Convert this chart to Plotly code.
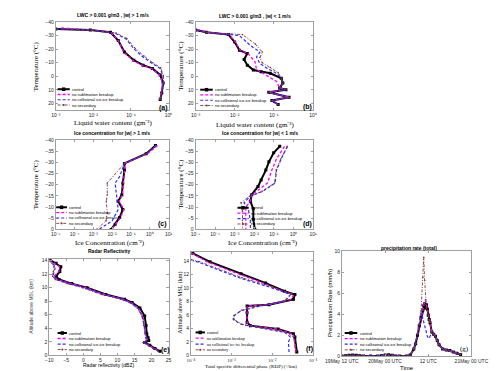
import plotly.graph_objects as go

W, H = 500, 371

SERIES = ["control", "no sublimation breakup", "no collisional ice-ice breakup", "no secondary"]
STYLE = {
    "control": dict(color="#000000", width=2.0, dash="solid", symbol="square", size=3.0),
    "no sublimation breakup": dict(color="#ff00ff", width=1.3, dash="3px,2px", symbol=None, size=0),
    "no collisional ice-ice breakup": dict(color="#2b2bff", width=1.2, dash="3px,2px", symbol=None, size=0),
    "no secondary": dict(color="#7a3a3a", width=0.9, dash="3px,1.5px,1px,1.5px", symbol="circle", size=1.6),
}

# ---------------------------------------------------------------- (a) LWC, |w| > 1
a_T = {
    "control": [-34.7, -34.0, -32.3, -26.3, -17.8, -11.8, -8.2, -5.8, -1.0, 5.0, 12.2, 17.0],
    "no sublimation breakup": [-35.5, -34.0, -32.3, -26.0, -17.5, -11.5, -8.0, -5.6, -1.0, 5.0, 12.0, 17.0],
    "no collisional ice-ice breakup": [-34.7, -34.0, -31.6, -27.5, -20.3, -14.2, -9.4, -5.8, 0.0, 5.0, 12.2, 17.0],
    "no secondary": [-34.7, -34.0, -31.8, -27.8, -21.0, -15.0, -10.0, -6.2, -0.5, 5.0, 12.2, 17.0],
}
a_lwc = {
    "control": [0.001, 0.0083, 0.0285, 0.046, 0.067, 0.119, 0.21, 0.37, 0.60, 0.72, 0.66, 0.60],
    "no sublimation breakup": [0.0014, 0.0085, 0.029, 0.047, 0.065, 0.115, 0.20, 0.36, 0.58, 0.70, 0.64, 0.58],
    "no collisional ice-ice breakup": [0.001, 0.0083, 0.038, 0.074, 0.119, 0.21, 0.37, 0.60, 0.72, 0.72, 0.66, 0.60],
    "no secondary": [0.001, 0.0083, 0.040, 0.078, 0.125, 0.22, 0.38, 0.62, 0.73, 0.72, 0.66, 0.60],
}

# ---------------------------------------------------------------- (b) LWC, |w| < 1
b_T = {
    "control": [-34.0, -32.3, -30.6, -25.1, -19.1, -16.7, -12.3, -8.2, -4.6, -3.4, -2.2, 1.4, 5.0, 8.6, 9.8, 11.7, 15.4, 17.8, 20.7],
    "no sublimation breakup": [-34.5, -32.3, -30.6, -25.1, -19.1, -16.7, -10.6, -5.1, -0.3, 3.8, 8.6, 9.8, 11.7, 15.4, 17.8, 20.7],
    "no collisional ice-ice breakup": [-34.0, -32.3, -29.9, -22.7, -17.8, -14.2, -9.4, -5.8, -2.2, 1.4, 5.0, 8.6, 9.8, 11.7, 15.4, 17.8, 20.7],
    "no secondary": [-34.0, -32.3, -30.6, -23.9, -17.8, -13.8, -9.9, -6.5, -2.7, 1.4, 5.0, 8.6, 9.8, 11.7, 15.4, 17.8, 20.7],
}
b_lwc = {
    "control": [0.0010, 0.0019, 0.0069, 0.010, 0.0132, 0.021, 0.0174, 0.021, 0.030, 0.047, 0.081, 0.155, 0.17, 0.141, 0.204, 0.074, 0.245, 0.089, 0.129],
    "no sublimation breakup": [0.0011, 0.0021, 0.0072, 0.0105, 0.0138, 0.022, 0.033, 0.036, 0.068, 0.117, 0.141, 0.204, 0.074, 0.245, 0.089, 0.129],
    "no collisional ice-ice breakup": [0.0010, 0.0019, 0.0132, 0.025, 0.044, 0.036, 0.044, 0.068, 0.117, 0.155, 0.17, 0.141, 0.204, 0.074, 0.245, 0.089, 0.129],
    "no secondary": [0.0010, 0.0019, 0.0158, 0.033, 0.051, 0.044, 0.051, 0.081, 0.129, 0.155, 0.17, 0.141, 0.204, 0.074, 0.245, 0.089, 0.129],
}

# ---------------------------------------------------------------- (c) ice conc, |w| > 1
c_T = {
    "control": [-37.5, -33.8, -29.5, -26.5, -20.7, -15.5, -12.6, -8.9, -5.3, -2.3, 0.0],
    "no sublimation breakup": [-37.5, -33.8, -29.5, -26.5, -20.7, -15.5, -12.6, -8.9, -5.3, -2.3, 0.0],
    "no collisional ice-ice breakup": [-37.5, -33.8, -29.5, -23.6, -20.7, -13.3, -8.9, -3.8, 0.0],
    "no secondary": [-37.5, -33.8, -29.5, -20.7, -15.5, -12.6, -7.4, -3.8, 0.0],
}
c_ice = {
    "control": [2.02, 0.65, 0.045, 0.045, 0.037, 0.033, 0.021, 0.037, 0.025, 0.0145, 0.0089],
    "no sublimation breakup": [2.6, 0.75, 0.047, 0.047, 0.039, 0.035, 0.024, 0.042, 0.028, 0.016, 0.0095],
    "no collisional ice-ice breakup": [2.1, 0.68, 0.045, 0.025, 0.0145, 0.0174, 0.021, 0.010, 0.0020],
    "no secondary": [2.1, 0.66, 0.045, 0.0055, 0.0055, 0.0049, 0.0055, 0.0047, 0.0015],
}

# ---------------------------------------------------------------- (d) ice conc, |w| < 1
d_T = {
    "control": [-37.1, -34.2, -30.2, -26.5, -22.1, -19.2, -15.5, -12.6, -9.2, -4.5, 0.0],
    "no sublimation breakup": [-37.1, -31.6, -26.5, -20.7, -17.0, -15.5, -12.6, -10.0, -5.0, 0.0],
    "no collisional ice-ice breakup": [-37.1, -31.6, -26.5, -20.7, -17.0, -14.8, -11.9, -8.6, -4.0, 0.0],
    "no secondary": [-37.1, -31.6, -26.5, -20.7, -17.0, -14.8, -11.9, -8.0, -4.0, 0.0],
}
d_ice = {
    "control": [0.20, 0.098, 0.056, 0.039, 0.0224, 0.0155, 0.0074, 0.0063, 0.0089, 0.0089, 0.0107],
    "no sublimation breakup": [0.35, 0.138, 0.079, 0.047, 0.0129, 0.0074, 0.0063, 0.0037, 0.0037, 0.0037],
    "no collisional ice-ice breakup": [0.50, 0.24, 0.138, 0.115, 0.027, 0.0063, 0.0030, 0.0051, 0.0063, 0.0063],
    "no secondary": [0.48, 0.23, 0.132, 0.11, 0.025, 0.0056, 0.0021, 0.0025, 0.0025, 0.0025],
}

# ---------------------------------------------------------------- (e) reflectivity
e_alt = [14.1, 13.6, 13.1, 12.4, 11.7, 11.2, 10.6, 10.0, 9.0, 8.3, 7.8, 7.0, 5.8, 4.4, 3.2, 2.6, 2.2, 1.9, 1.5, 1.0, 0.6]
e_dbz = {
    "control": [-9.8, -8.0, -6.6, -6.9, -8.0, -7.1, -3.4, 1.1, 6.6, 12.1, 14.3, 16.6, 18.0, 18.4, 18.6, 19.0, 19.2, 18.0, 19.5, 21.0, 22.5],
    "no sublimation breakup": [-9.9, -8.5, -7.0, -7.2, -8.5, -7.6, -3.8, 0.7, 6.2, 11.7, 14.0, 16.2, 17.5, 17.9, 18.2, 18.6, 18.8, 17.8, 19.3, 20.8, 22.3],
    "no collisional ice-ice breakup": [-10.0, -9.0, -8.2, -8.5, -9.0, -8.0, -4.0, 0.3, 5.9, 11.5, 13.8, 16.0, 17.3, 17.8, 18.2, 18.5, 18.7, 17.6, 19.1, 20.6, 22.1],
    "no secondary": [-10.0, -9.2, -8.6, -8.8, -9.0, -8.2, -4.8, -0.3, 5.2, 11.0, 13.5, 15.8, 17.2, 17.7, 18.0, 18.3, 18.5, 17.5, 19.0, 20.4, 21.9],
}

# ---------------------------------------------------------------- (f) KDP
f_alt = {
    "control": [15.1, 13.85, 12.1, 10.7, 9.5, 9.0, 8.3, 7.5, 7.3, 6.3, 4.9, 4.4, 3.9, 3.2, 2.7, 0.5],
    "no sublimation breakup": [15.1, 13.85, 12.1, 10.7, 9.5, 9.0, 8.3, 7.5, 7.3, 6.3, 4.9, 4.4, 3.9, 3.2, 2.7, 0.5],
    "no collisional ice-ice breakup": [14.1, 13.85, 11.4, 10.0, 9.0, 8.0, 7.3, 6.6, 5.8, 5.3, 4.6, 4.1, 3.4, 2.7, 2.0, 0.5],
    "no secondary": [14.2, 13.9, 11.5, 10.1, 9.1, 8.1, 7.4, 6.7, 5.9, 5.3, 4.6, 4.1, 3.4, 2.7, 2.0, 0.5],
}
f_kdp = {
    "control": [0.000112, 0.000295, 0.0017, 0.0069, 0.020, 0.036, 0.033, 0.0083, 0.0024, 0.0024, 0.0024, 0.0029, 0.0138, 0.033, 0.036, 0.040],
    "no sublimation breakup": [0.000107, 0.00025, 0.0014, 0.006, 0.0178, 0.033, 0.030, 0.0079, 0.0024, 0.0024, 0.0024, 0.0028, 0.0126, 0.0316, 0.0347, 0.038],
    "no collisional ice-ice breakup": [0.0001, 0.000145, 0.0017, 0.0098, 0.028, 0.020, 0.0049, 0.0017, 0.0011, 0.0011, 0.0017, 0.0049, 0.020, 0.028, 0.025, 0.0257],
    "no secondary": [0.0001, 0.000158, 0.0018, 0.0105, 0.030, 0.021, 0.0052, 0.0018, 0.00115, 0.00115, 0.0018, 0.0052, 0.0224, 0.033, 0.035, 0.037],
}

# ---------------------------------------------------------------- (g) precipitation rate
g_hours = [0, 1, 2, 3, 4, 5, 6, 8, 10, 11, 12, 13, 14, 15, 16, 18, 19, 20, 20.5, 21, 21.5, 22, 22.5,
           22.75, 23, 23.25, 23.5, 23.75, 24, 24.25, 24.5, 25, 25.5, 26, 26.5, 27, 28, 29, 30, 31, 32, 33]
g_rate = {
    "control": [0.03, 0.05, 0.1, 0.12, 0.1, 0.05, 0.03, 0.02, 0.03, 0.05, 0.12, 0.15, 0.1, 0.03, 0.02, 0.02, 0.12,
                0.7, 1.2, 2.0, 2.9, 3.7, 4.4, 4.8, 5.0, 4.6, 4.9, 4.5, 3.9, 3.5, 3.2, 2.3, 2.1, 1.9, 1.5, 1.1,
                0.7, 0.6, 0.55, 0.42, 0.3, 0.15],
    "no sublimation breakup": [0.03, 0.05, 0.1, 0.12, 0.1, 0.05, 0.03, 0.02, 0.03, 0.05, 0.12, 0.15, 0.1, 0.03, 0.02, 0.02, 0.12,
                               0.7, 1.2, 2.0, 2.9, 3.7, 4.4, 4.9, 5.2, 5.3, 4.8, 4.6, 4.0, 3.5, 3.2, 2.3, 2.1, 1.9, 1.5, 1.1,
                               0.7, 0.6, 0.55, 0.42, 0.3, 0.15],
    "no collisional ice-ice breakup": [0.03, 0.05, 0.1, 0.12, 0.1, 0.05, 0.03, 0.02, 0.03, 0.05, 0.12, 0.15, 0.1, 0.03, 0.02, 0.02, 0.12,
                                       0.7, 1.3, 2.2, 3.2, 4.1, 3.6, 3.2, 2.8, 2.5, 2.1, 1.9, 1.75, 1.7, 1.9, 2.2, 2.1, 1.9, 1.5, 1.1,
                                       0.7, 0.6, 0.55, 0.42, 0.3, 0.15],
    "no secondary": [0.03, 0.05, 0.1, 0.12, 0.1, 0.05, 0.03, 0.02, 0.03, 0.05, 0.12, 0.15, 0.1, 0.03, 0.02, 0.02, 0.12,
                     0.7, 1.2, 2.1, 3.0, 4.3, 7.5, 9.4, 7.2, 5.4, 4.6, 4.3, 3.9, 3.5, 3.2, 2.3, 2.1, 1.9, 1.5, 1.1,
                     0.7, 0.6, 0.55, 0.42, 0.3, 0.15],
}
g_tickvals = [0, 12, 24, 36]
g_ticktext = ["19May 12 UTC", "20May 00 UTC", "12 UTC", "21May 00 UTC"]

temp_ticks_ab = [-40, -30, -20, -10, 0, 10, 20]
temp_ticks_cd = [-40, -35, -30, -25, -20, -15, -10, -5, 0]
alt_ticks = [0, 2, 4, 6, 8, 10, 12, 14]
dbz_ticks = [-10, -5, 0, 5, 10, 15, 20, 25]
rate_ticks = [0, 2, 4, 6, 8, 10]
lwc_ticks = [1e-3, 1e-2, 1e-1, 1e0]
lwc_ticklabels = ["10⁻³", "10⁻²", "10⁻¹", "10⁰"]
ice_ticks = [1e-5, 1e-4, 1e-3, 1e-2, 1e-1, 1e0, 1e1]
ice_ticklabels = ["10⁻⁵", "10⁻⁴", "10⁻³", "10⁻²", "10⁻¹", "10⁰", "10¹"]
kdp_ticks = [1e-4, 1e-3, 1e-2, 1e-1]
kdp_ticklabels = ["10⁻⁴", "10⁻³", "10⁻²", "10⁻¹"]

# ---------------------------------------------------------------- layout helpers
# panel boxes in pixels: left, right, top, bottom
BOX = {
    1: (33, 154, 11, 101),
    2: (183, 309, 11, 101),
    3: (33, 154, 131, 222),
    4: (183, 309, 131, 222),
    5: (26, 154, 252, 350),
    6: (178, 309, 245, 350),
    7: (340, 479, 244, 351),
}

SANS = "Arial, Liberation Sans, sans-serif"
SERIF = "Liberation Serif, Times New Roman, serif"
AXC = "#a0a0a0"


def X(px):
    return px / W


def Y(py):
    return 1 - py / H


fig = go.Figure()


def add_series(k, xs, ys):
    for name in SERIES:
        st = STYLE[name]
        mode = "lines+markers" if st["symbol"] else "lines"
        fig.add_trace(go.Scatter(
            x=xs[name] if isinstance(xs, dict) else xs,
            y=ys[name] if isinstance(ys, dict) else ys,
            mode=mode, name=name, showlegend=False,
            line=dict(color=st["color"], width=st["width"], dash=st["dash"]),
            marker=dict(symbol=st["symbol"] or "circle", size=st["size"], color=st["color"],
                        line=dict(width=0)),
            xaxis=f"x{k}", yaxis=f"y{k}",
        ))


add_series(1, a_lwc, a_T)
add_series(2, b_lwc, b_T)
add_series(3, c_ice, c_T)
add_series(4, d_ice, d_T)
add_series(5, e_dbz, e_alt)
add_series(6, f_kdp, f_alt)
add_series(7, g_hours, g_rate)

axis_common = dict(
    showline=True, mirror="ticks", linecolor=AXC, linewidth=0.8,
    ticks="inside", ticklen=2.5, tickcolor=AXC, tickwidth=0.6,
    tickfont=dict(size=5, family=SANS, color="#262626"),
    showgrid=False, zeroline=False, fixedrange=True,
)

layout = {}
for k, (l, r, t, b) in BOX.items():
    layout[f"xaxis{k}"] = dict(axis_common, domain=[X(l), X(r)], anchor=f"y{k}")
    layout[f"yaxis{k}"] = dict(axis_common, domain=[Y(b), Y(t)], anchor=f"x{k}")

layout["xaxis1"].update(type="log", range=[-3, 0], tickvals=lwc_ticks, ticktext=lwc_ticklabels)
layout["xaxis2"].update(type="log", range=[-3, 0], tickvals=lwc_ticks, ticktext=lwc_ticklabels)
layout["xaxis3"].update(type="log", range=[-5, 1], tickvals=ice_ticks, ticktext=ice_ticklabels)
layout["xaxis4"].update(type="log", range=[-5, 1], tickvals=ice_ticks, ticktext=ice_ticklabels)
layout["xaxis6"].update(type="log", range=[-4, -1], tickvals=kdp_ticks, ticktext=kdp_ticklabels,
                        tickfont=dict(size=5, family=SERIF, color="#262626"))
layout["xaxis5"].update(range=[-10, 25], tickvals=dbz_ticks)
layout["xaxis7"].update(range=[0, 36], tickvals=g_tickvals, ticktext=g_ticktext)

for k in (1, 2):
    layout[f"yaxis{k}"].update(range=[25, -40], tickvals=temp_ticks_ab)
for k in (3, 4):
    layout[f"yaxis{k}"].update(range=[0, -40], tickvals=temp_ticks_cd)
layout["yaxis5"].update(range=[0, 14.25], tickvals=alt_ticks)
layout["yaxis6"].update(range=[0, 15.3], tickvals=alt_ticks)
layout["yaxis7"].update(range=[0, 10], tickvals=rate_ticks)

annotations = []
shapes = []


def note(text, px, py, size, family=SANS, bold=False, angle=0, xanchor="center", yanchor="middle",
         color="#000000"):
    if bold:
        text = f"<b>{text}</b>"
    annotations.append(dict(
        text=text, x=X(px), y=Y(py), xref="paper", yref="paper", showarrow=False,
        textangle=angle, xanchor=xanchor, yanchor=yanchor,
        font=dict(size=size, family=family, color=color),
    ))


# titles
note("LWC > 0.001 g/m3 , |w| > 1 m/s", 94, 4.5, 5, bold=True)
note("LWC > 0.001 g/m3 , |w| < 1 m/s", 247, 5, 5, bold=True)
note("Ice concentration for |w| > 1 m/s", 93, 123.5, 5, bold=True)
note("Ice concentration for |w| < 1 m/s", 252, 124.5, 5, bold=True)
note("Radar Reflectivity", 90, 243.5, 5, bold=True)
note("precipitation rate (total)", 412, 240.5, 5, bold=True)

# axis titles
note("Liquid water content (gm⁻³)", 94, 113.5, 7, SERIF)
note("Liquid water content (gm⁻³)", 247, 115.5, 7, SERIF)
note("Ice Concentration (cm⁻³)", 91, 235.5, 7, SERIF)
note("Ice Concentration (cm⁻³)", 255, 235.5, 7, SERIF)
note("Temperature (°C)", 12, 56, 7, SERIF, angle=-90)
note("Temperature (°C)", 168, 56, 7, SERIF, angle=-90)
note("Temperature (°C)", 12, 176, 7, SERIF, angle=-90)
note("Temperature (°C)", 168, 176, 7, SERIF, angle=-90)
note("Radar reflectivity (dBZ)", 90, 360, 5)
note("Altitude above MSL (km)", 7, 300, 5, angle=-90, color="#404040")
note("Total specific differential phase (KDP) (°/km)", 242, 361.5, 5, SERIF)
note("Altitude above MSL (km)", 167, 297, 6, SERIF, angle=-90)
note("Time", 410, 362.5, 6)
note("Precipitation Rate (mm/h)", 328, 297, 6, angle=-90)

# panel letters
note("(a)", 149, 99, 7, bold=True)
note("(b)", 303, 98, 7, bold=True)
note("(c)", 148, 216, 7, bold=True)
note("(d)", 303, 216.5, 7, bold=True)
note("(e)", 150.5, 345, 7, bold=True)
note("(f)", 305, 344, 7, bold=True)
note("(g)", 471.5, 344, 7, SERIF)


def legend(x0, x1, py0, dy, family=SANS, size=4):
    for i, name in enumerate(SERIES):
        st = STYLE[name]
        py = py0 + i * dy
        shapes.append(dict(type="line", xref="paper", yref="paper",
                           x0=X(x0), x1=X(x1), y0=Y(py), y1=Y(py),
                           line=dict(color=st["color"], width=st["width"], dash=st["dash"])))
        if st["symbol"]:
            cx = (x0 + x1) / 2
            s = st["size"] / 2 + 0.3
            shapes.append(dict(type="rect" if st["symbol"] == "square" else "circle",
                               xref="paper", yref="paper",
                               x0=X(cx - s), x1=X(cx + s), y0=Y(py + s), y1=Y(py - s),
                               fillcolor=st["color"], line=dict(width=0)))
        note(name, x1 + 0.5, py, size, family, xanchor="left")


legend(35, 48, 79.5, 5.35)
legend(188, 201.5, 80, 5.35)
legend(33.5, 45, 199.5, 5.45)
legend(228, 240, 200, 5.5)
legend(35, 45, 327.3, 5.6)
legend(183, 193, 326.7, 5.9, family=SERIF)
legend(343, 356.5, 327.3, 5.7)

fig.update_layout(
    **layout,
    annotations=annotations, shapes=shapes,
    width=W, height=H, margin=dict(l=0, r=0, t=0, b=0),
    paper_bgcolor="white", plot_bgcolor="white", showlegend=False,
    font=dict(family=SANS),
)

fig.write_html("out.html", config=dict(displayModeBar=False))
